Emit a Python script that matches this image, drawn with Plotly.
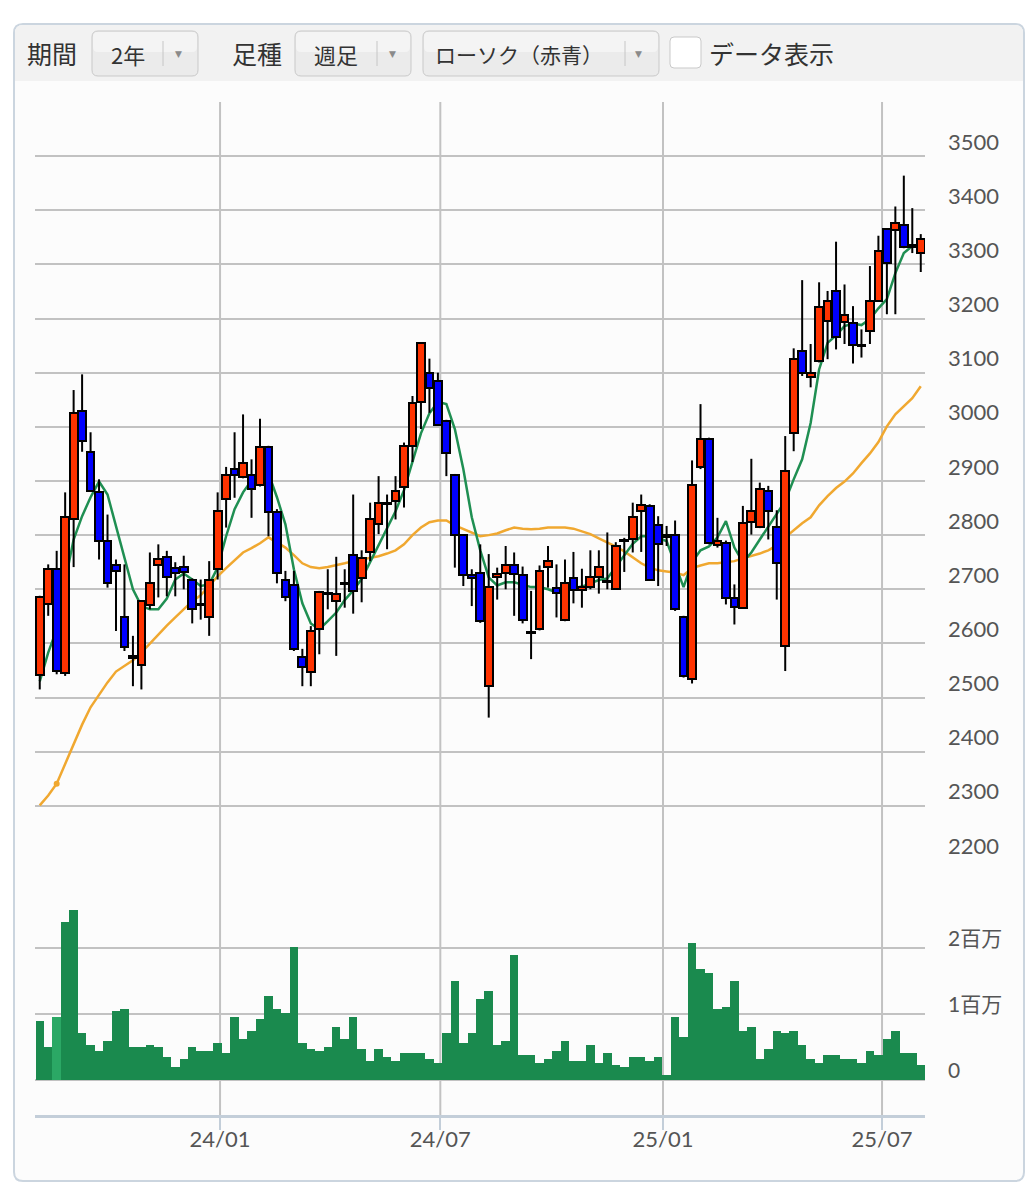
import pandas as pd
import plotly.graph_objects as go

W, H = 1032, 1191

# ---------------- data ----------------
start_date = "2023-08-05"
n_weeks = 105
dates = pd.date_range(start_date, periods=n_weeks, freq="7D")

opens = [2542, 2673, 2737, 2545, 2829, 3029, 2953, 2879, 2789, 2745,
         2649, 2576, 2560, 2671, 2744, 2760, 2739, 2741, 2718, 2672,
         2649, 2737, 2866, 2923, 2907, 2912, 2892, 2963, 2842, 2718,
         2708, 2575, 2548, 2627, 2693, 2678, 2712, 2763, 2720, 2768,
         2820, 2858, 2863, 2889, 2964, 3045, 3100, 3085, 3011, 2911,
         2800, 2726, 2731, 2522, 2723, 2731, 2744, 2726, 2621, 2626,
         2741, 2703, 2644, 2720, 2698, 2704, 2722, 2716, 2701, 2791,
         2792, 2845, 2853, 2819, 2800, 2800, 2649, 2534, 2926, 2978,
         2781, 2786, 2683, 2666, 2824, 2815, 2882, 2815, 2596, 2988,
         3140, 3093, 3121, 3196, 3251, 3193, 3191, 3152, 3177, 3233,
         3365, 3363, 3373, 3335, 3321]
highs = [2688, 2746, 2771, 2879, 3068, 3097, 2990, 2903, 2838, 2755,
         2746, 2614, 2680, 2768, 2783, 2771, 2750, 2762, 2720, 2718,
         2752, 2879, 2926, 2990, 3023, 2940, 3015, 2965, 2848, 2734,
         2734, 2590, 2632, 2697, 2737, 2760, 2737, 2875, 2772, 2860,
         2909, 2875, 2909, 2971, 3057, 3156, 3126, 3100, 3013, 2913,
         2802, 2737, 2783, 2765, 2740, 2780, 2768, 2742, 2697, 2744,
         2780, 2746, 2755, 2769, 2738, 2772, 2772, 2805, 2787, 2795,
         2860, 2875, 2857, 2835, 2817, 2827, 2651, 2938, 3042, 2980,
         2832, 2790, 2709, 2854, 2941, 2897, 2891, 2846, 2983, 3145,
         3271, 3153, 3267, 3251, 3342, 3263, 3223, 3180, 3297, 3353,
         3367, 3407, 3464, 3404, 3356]
lows = [2515, 2651, 2543, 2540, 2741, 2954, 2880, 2755, 2703, 2623,
        2586, 2521, 2515, 2663, 2685, 2687, 2687, 2700, 2637, 2644,
        2614, 2718, 2814, 2869, 2905, 2832, 2890, 2798, 2711, 2678,
        2586, 2521, 2521, 2580, 2663, 2577, 2666, 2655, 2676, 2752,
        2802, 2774, 2829, 2851, 2935, 2996, 3026, 3002, 2909, 2740,
        2706, 2669, 2638, 2463, 2681, 2700, 2651, 2637, 2571, 2624,
        2703, 2648, 2641, 2674, 2666, 2700, 2692, 2700, 2699, 2732,
        2768, 2769, 2716, 2706, 2780, 2660, 2537, 2526, 2922, 2783,
        2777, 2672, 2635, 2664, 2801, 2813, 2792, 2681, 2549, 2955,
        3094, 3073, 3119, 3125, 3143, 3153, 3117, 3128, 3153, 3231,
        3208, 3208, 3330, 3321, 3286]
closes = [2686, 2737, 2549, 2834, 3026, 2974, 2882, 2789, 2712, 2734,
          2593, 2574, 2678, 2712, 2756, 2723, 2730, 2732, 2663, 2671,
          2718, 2845, 2911, 2911, 2934, 2886, 2963, 2842, 2731, 2686,
          2590, 2556, 2623, 2695, 2691, 2692, 2710, 2697, 2758, 2829,
          2860, 2860, 2882, 2964, 3044, 3154, 3071, 3004, 2951, 2800,
          2726, 2720, 2641, 2704, 2729, 2744, 2728, 2644, 2619, 2734,
          2753, 2694, 2711, 2698, 2704, 2722, 2741, 2714, 2780, 2789,
          2833, 2855, 2718, 2784, 2797, 2663, 2539, 2893, 2978, 2785,
          2789, 2683, 2668, 2823, 2845, 2885, 2845, 2749, 2918, 3126,
          3100, 3100, 3222, 3233, 3166, 3207, 3151, 3150, 3233, 3325,
          3302, 3377, 3332, 3333, 3347]
volumes_m = [0.89, 0.50, 0.95, 2.40, 2.58, 0.71, 0.53, 0.44, 0.59, 1.04,
             1.07, 0.50, 0.50, 0.53, 0.50, 0.35, 0.20, 0.32, 0.50, 0.44,
             0.44, 0.56, 0.41, 0.95, 0.62, 0.74, 0.92, 1.28, 1.07, 1.01,
             2.01, 0.56, 0.47, 0.44, 0.50, 0.80, 0.62, 0.95, 0.47, 0.29,
             0.47, 0.35, 0.29, 0.41, 0.41, 0.41, 0.32, 0.26, 0.71, 1.50,
             0.56, 0.71, 1.23, 1.35, 0.53, 0.59, 1.89, 0.38, 0.38, 0.26,
             0.32, 0.44, 0.59, 0.29, 0.29, 0.53, 0.26, 0.41, 0.23, 0.20,
             0.35, 0.35, 0.29, 0.35, 0.08, 0.95, 0.65, 2.07, 1.68, 1.62,
             1.07, 1.10, 1.50, 0.74, 0.80, 0.32, 0.47, 0.74, 0.71, 0.74,
             0.53, 0.32, 0.26, 0.38, 0.38, 0.32, 0.32, 0.26, 0.44, 0.38,
             0.62, 0.74, 0.41, 0.41, 0.23]
ma_short = [2530, 2583, 2626, 2715, 2792, 2835, 2870, 2899, 2875, 2818,
            2757, 2700, 2669, 2663, 2663, 2683, 2718, 2729, 2718, 2706,
            2709, 2740, 2798, 2848, 2879, 2901, 2912, 2914, 2870, 2820,
            2737, 2674, 2637, 2626, 2641, 2657, 2680, 2698, 2719, 2750,
            2781, 2813, 2844, 2883, 2935, 2988, 3025, 3046, 3042, 2996,
            2922, 2833, 2772, 2722, 2707, 2713, 2713, 2709, 2704, 2704,
            2700, 2694, 2700, 2702, 2705, 2711, 2717, 2720, 2741, 2763,
            2784, 2798, 2798, 2794, 2789, 2746, 2704, 2750, 2772, 2779,
            2796, 2826, 2777, 2750, 2768, 2792, 2816, 2839, 2863, 2903,
            2940, 3007, 3106, 3155, 3169, 3186, 3191, 3188, 3199, 3219,
            3236, 3284, 3321, 3334, 3334]
ma_long = [2301, 2319, 2341, 2377, 2413, 2450, 2482, 2505, 2528, 2548,
           2558, 2569, 2583, 2600, 2617, 2633, 2648, 2663, 2678, 2689,
           2707, 2724, 2739, 2753, 2768, 2776, 2785, 2796, 2787, 2777,
           2763, 2748, 2741, 2739, 2741, 2744, 2748, 2752, 2755, 2757,
           2761, 2766, 2772, 2783, 2800, 2814, 2824, 2827, 2827, 2818,
           2811, 2805, 2798, 2800, 2803, 2809, 2814, 2812, 2811, 2812,
           2814, 2814, 2814, 2812, 2807, 2802, 2794, 2787, 2779, 2770,
           2759, 2748, 2740, 2735, 2733, 2731, 2726, 2739, 2744, 2748,
           2748, 2750, 2752, 2757, 2761, 2766, 2772, 2781, 2796, 2809,
           2822, 2833, 2855, 2872, 2887, 2899, 2914, 2933, 2951, 2972,
           3001, 3023, 3038, 3053, 3075]
highlight_index = 2   # week shown in hover state in the picture

price_ticks = [2200, 2300, 2400, 2500, 2600, 2700, 2800, 2900, 3000,
               3100, 3200, 3300, 3400, 3500, 3600]
price_labels = [2200, 2300, 2400, 2500, 2600, 2700, 2800, 2900, 3000,
                3100, 3200, 3300, 3400, 3500]
vol_ticks = [0, 1000000, 2000000, 3000000]
vol_label_vals = [0, 1000000, 2000000]
vol_label_text = ["0", "1百万", "2百万"]
date_ticks = ["2024-01-01", "2024-07-01", "2025-01-01", "2025-07-01"]
date_tick_text = ["24/01", "24/07", "25/01", "25/07"]
x_range = ["2023-08-01 02:00", "2025-08-05 12:00"]
price_range = [2200, 3600]
vol_range = [-530000, 3000000]

volumes = [v * 1_000_000 for v in volumes_m]
WEEK_MS = 7 * 24 * 3600 * 1000

# candle bodies and wicks derived from the OHLC lists
body_base = [min(o, c) for o, c in zip(opens, closes)]
body_top = [max(o, c) for o, c in zip(opens, closes)]
body_len = [t - b for t, b in zip(body_top, body_base)]
body_color = ["#FF3300" if c >= o else "#0000FF" for o, c in zip(opens, closes)]
wick_x, wick_y = [], []
for d, lo, hi, bb, bt in zip(dates, lows, highs, body_base, body_top):
    wick_x += [d, d, None, d, d, None]
    wick_y += [lo, bb, None, bt, hi, None]
vol_color = ["#2BA865" if i == highlight_index else "#1A8A4E" for i in range(n_weeks)]

# ---------------- helpers (pixel -> paper) ----------------
def X(px):
    return px / W

def Y(py):
    return 1 - py / H

def rrect(x0, y0, x1, y1, r, fill, line_color=None, line_width=0):
    p = (f"M{X(x0 + r)},{Y(y0)} L{X(x1 - r)},{Y(y0)} Q{X(x1)},{Y(y0)} {X(x1)},{Y(y0 + r)} "
         f"L{X(x1)},{Y(y1 - r)} Q{X(x1)},{Y(y1)} {X(x1 - r)},{Y(y1)} "
         f"L{X(x0 + r)},{Y(y1)} Q{X(x0)},{Y(y1)} {X(x0)},{Y(y1 - r)} "
         f"L{X(x0)},{Y(y0 + r)} Q{X(x0)},{Y(y0)} {X(x0 + r)},{Y(y0)} Z")
    return dict(type="path", xref="paper", yref="paper", path=p, fillcolor=fill,
                line=dict(color=line_color or fill, width=line_width), layer="below")

def vline_px(x, y0, y1, color, width):
    return dict(type="line", xref="paper", yref="paper", x0=X(x), x1=X(x), y0=Y(y0), y1=Y(y1),
                line=dict(color=color, width=width), layer="below")

JP = "Noto Sans CJK JP, Noto Sans, sans-serif"
NUM = "Lato, Noto Sans CJK JP, sans-serif"
GRID = "#C2C2C2"

fig = go.Figure()

# volume pane
fig.add_trace(go.Bar(
    x=dates, y=volumes, xaxis="x2", yaxis="y2",
    width=WEEK_MS, marker=dict(color=vol_color, line=dict(width=0)),
    hoverinfo="skip", showlegend=False))

# moving averages on the base price subplot
fig.add_trace(go.Scatter(
    x=dates, y=ma_long, mode="lines", line=dict(color="#F0A830", width=2.5),
    hoverinfo="skip", showlegend=False))
fig.add_trace(go.Scatter(
    x=[dates[highlight_index]], y=[ma_long[highlight_index]], mode="markers",
    marker=dict(color="#F0A830", size=6), hoverinfo="skip", showlegend=False))
fig.add_trace(go.Scatter(
    x=dates, y=ma_short, mode="lines", line=dict(color="#1F8F52", width=2.5),
    hoverinfo="skip", showlegend=False))

# candles on an overlaying subplot so they sit above the averages
fig.add_trace(go.Scatter(
    x=wick_x, y=wick_y, xaxis="x3", yaxis="y3", mode="lines",
    line=dict(color="#000000", width=2), connectgaps=False,
    hoverinfo="skip", showlegend=False))
fig.add_trace(go.Bar(
    x=dates, y=body_len, base=body_base, xaxis="x3", yaxis="y3", width=WEEK_MS * 0.92,
    marker=dict(color=body_color, line=dict(color="#000000", width=2)),
    hoverinfo="skip", showlegend=False))

shapes = []
shapes.append(rrect(14, 24, 1024, 1181, 9, "#FCFCFC", "#CBD5DF", 2))
shapes.append(rrect(15, 25, 1023, 90, 8, "#F2F2F2"))
shapes.append(dict(type="rect", xref="paper", yref="paper", x0=X(15), x1=X(1023), y0=Y(90), y1=Y(81),
                   fillcolor="#FCFCFC", line=dict(width=0), layer="below"))
for (x0, x1, sep) in [(92, 198, 163), (295, 411, 377), (423, 659, 625)]:
    shapes.append(rrect(x0, 31, x1, 76, 6, "#EBEBEB", "#C9C9C9", 1))
    shapes.append(rrect(x0 + 1, 32, x1 - 1, 52, 5, "#F4F4F4"))
    shapes.append(vline_px(sep, 41, 66, "#C6C6C6", 1))
shapes.append(rrect(670, 37, 701, 68, 4, "#FFFFFF", "#C9C9C9", 1))
for d in date_ticks:
    shapes.append(dict(type="line", xref="x", yref="paper", x0=d, x1=d, y0=Y(1115), y1=Y(102),
                       line=dict(color=GRID, width=2), layer="below"))

annotations = []
def txt(s, x, y, size, color="#333333", family=JP, xanchor="center"):
    annotations.append(dict(text=s, x=X(x), y=Y(y), xref="paper", yref="paper", showarrow=False,
                            xanchor=xanchor, yanchor="middle",
                            font=dict(family=family, size=size, color=color)))

txt("期間", 52, 53, 25)
txt("2年", 128, 54, 22)
txt("足種", 257, 53, 25)
txt("週足", 336, 54, 22)
txt("ローソク（赤青）", 519, 54, 21)
txt("データ表示", 771, 53, 25)
for ax_ in (178, 392, 638):
    txt("▼", ax_, 54, 9, "#8A8A8A", "DejaVu Sans")

for v in price_labels:
    annotations.append(dict(text=str(v), x=X(946), y=v, xref="paper", yref="y", showarrow=False,
                            xanchor="left", yanchor="middle", yshift=15,
                            font=dict(family=NUM, size=22, color="#555555")))
for v, t in zip(vol_label_vals, vol_label_text):
    annotations.append(dict(text=t, x=X(946), y=v, xref="paper", yref="y2", showarrow=False,
                            xanchor="left", yanchor="middle", yshift=11,
                            font=dict(family=NUM, size=21, color="#555555")))

fig.update_layout(
    width=W, height=H, margin=dict(l=0, r=0, t=0, b=0),
    paper_bgcolor="#FFFFFF", plot_bgcolor="rgba(0,0,0,0)",
    showlegend=False, hovermode=False,
    barmode="overlay", bargap=0,
    font=dict(family=NUM),
    shapes=shapes, annotations=annotations,
    xaxis=dict(domain=[X(35), X(925)], range=x_range, type="date", anchor="y",
               showgrid=False, showticklabels=False, zeroline=False, showline=False,
               fixedrange=True),
    yaxis=dict(domain=[Y(860), Y(102)], range=price_range, tickvals=price_ticks,
               showgrid=True, gridcolor=GRID, gridwidth=2, showticklabels=False,
               zeroline=False, showline=False, fixedrange=True),
    xaxis3=dict(overlaying="x", matches="x", anchor="y3", type="date", range=x_range,
                showgrid=False, showticklabels=False, zeroline=False, showline=False,
                fixedrange=True),
    yaxis3=dict(overlaying="y", matches="y", anchor="x3", range=price_range,
                showgrid=False, showticklabels=False, zeroline=False, showline=False,
                fixedrange=True),
    xaxis2=dict(domain=[X(35), X(925)], range=x_range, type="date", anchor="y2", matches="x",
                showgrid=False, zeroline=False, showline=True, linecolor="#C3CED9", linewidth=3,
                ticks="outside", ticklen=12, tickwidth=2, tickcolor="#C3CED9",
                ticklabelstandoff=-9,
                tickvals=date_ticks, ticktext=date_tick_text,
                tickfont=dict(family=NUM, size=22, color="#555555"), fixedrange=True),
    yaxis2=dict(domain=[Y(1115), Y(882)], range=vol_range, tickvals=vol_ticks,
                showgrid=True, gridcolor=GRID, gridwidth=2, showticklabels=False,
                zeroline=False, showline=False, fixedrange=True),
)

fig.write_html("out.html", config={"displayModeBar": False},
               post_script="document.body.style.margin='0';document.body.style.overflow='hidden';")
